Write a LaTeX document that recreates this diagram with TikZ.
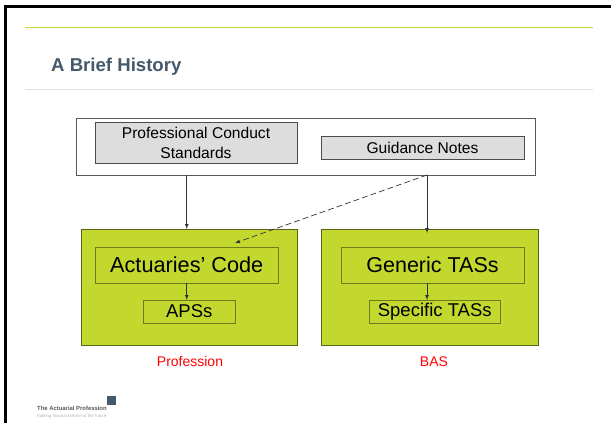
\documentclass[tikz,border=0pt]{standalone}
\usepackage{xcolor}
\usepackage{fontspec}
\setmainfont{Liberation Sans}
\usepackage{tikz}
\usetikzlibrary{calc}
\usetikzlibrary{arrows}
\usetikzlibrary{arrows.meta}
\usetikzlibrary{positioning}
\definecolor{slidegreen}{HTML}{C2D82E}
\definecolor{greenedge}{HTML}{5A6318}
\definecolor{inneredge}{HTML}{6E7A1C}
\definecolor{titleblue}{HTML}{44596C}
\definecolor{softrule}{HTML}{DFE3E8}
\definecolor{greybox}{HTML}{DDDDDD}
\tikzset{>=latex}
\tikzstyle{panel} = [rectangle, draw=black!65, fill=white, inner sep=0, outer sep=0, line width=.8pt]
\tikzstyle{greyitem} = [rectangle, draw=black!70, fill=greybox, inner sep=0, outer sep=0, line width=.8pt, align=center, font=\fontsize{15.6}{19.5}\selectfont]
\tikzstyle{greenbox} = [rectangle, draw=greenedge, fill=slidegreen, inner sep=0, outer sep=0, line width=.9pt]
\tikzstyle{greenitem} = [rectangle, draw=inneredge, inner sep=0, outer sep=0, line width=.9pt]
\tikzstyle{redlabel} = [draw=none, text=red, font=\fontsize{14}{16}\selectfont]
\tikzstyle{link} = [-latex, black!80, line width=.7pt]
\begin{document}
\begin{tikzpicture}[x=1pt, y=-1pt]
\useasboundingbox (0,0) rectangle (611,423);
% slide furniture
\draw [black, line width=3pt] (5.5,423) -- (5.5,6.5) -- (611,6.5);
\draw [slidegreen, line width=1.8pt] (25,27.5) -- (593,27.5);
\draw [softrule, line width=.9pt] (25,89.5) -- (593,89.5);
\node [anchor=base west, inner sep=0, text=titleblue, font=\fontsize{18.6}{22}\selectfont\bfseries] (title) at (51,71.5) {A Brief History};
% top panel
\node [panel, minimum width=459pt, minimum height=57pt] (top) at (305.5,146.5) {};
\node [greyitem, minimum width=202pt, minimum height=40.5pt] (conduct) at (196,143) {Professional Conduct\\Standards};
\node [greyitem, minimum width=203pt, minimum height=23.5pt] (guidance) at (422.5,148) {Guidance Notes};
% lower boxes
\node [greenbox, minimum width=216.5pt, minimum height=116pt] (prof) at (189.25,287) {};
\node [greenbox, minimum width=217pt, minimum height=116pt] (bas) at (430,287) {};
\node [greenitem, minimum width=183.5pt, minimum height=36pt, font=\fontsize{21.7}{24}\selectfont] (code) at (186.75,265) {Actuaries’ Code};
\node [greenitem, minimum width=91.5pt, minimum height=23pt, font=\fontsize{18.5}{21}\selectfont] (aps) at (189.25,311.5) {APSs};
\node [greenitem, minimum width=183pt, minimum height=36pt, font=\fontsize{21.5}{24}\selectfont] (generic) at (432.5,265) {Generic TASs};
\node [greenitem, minimum width=130.5pt, minimum height=23pt, font=\fontsize{18.5}{21}\selectfont] (specific) at (434.75,311.5) {Specific TASs};
\node [redlabel] (proflabel) at (190,361.5) {Profession};
\node [redlabel] (baslabel) at (434,361.5) {BAS};
% connectors
\coordinate (drop) at (427,0);
\coordinate (dashend) at (235,243);
\draw [link] (top.south -| code.north) to (code.north |- prof.north);
\draw [link] (top.south -| drop) to ($(bas.north -| drop)+(0,4)$);
\draw [link, dash pattern=on 6pt off 3pt] (top.south -| drop) to (dashend);
\draw [link] (code.south) to (code.south |- aps.north);
\draw [link] (generic.south -| drop) to (specific.north -| drop);
% logo
\fill [titleblue] (107,396) rectangle (116,404.5);
\node [anchor=base west, inner sep=0, text=black!65, font=\fontsize{5.9}{7}\selectfont\bfseries] (logoname) at (37,410.5) {The Actuarial Profession};
\node [anchor=base west, inner sep=0, text=black!30, font=\fontsize{4.4}{5}\selectfont] (logotag) at (37,417.5) {making financial sense of the future};
\end{tikzpicture}
\end{document}
